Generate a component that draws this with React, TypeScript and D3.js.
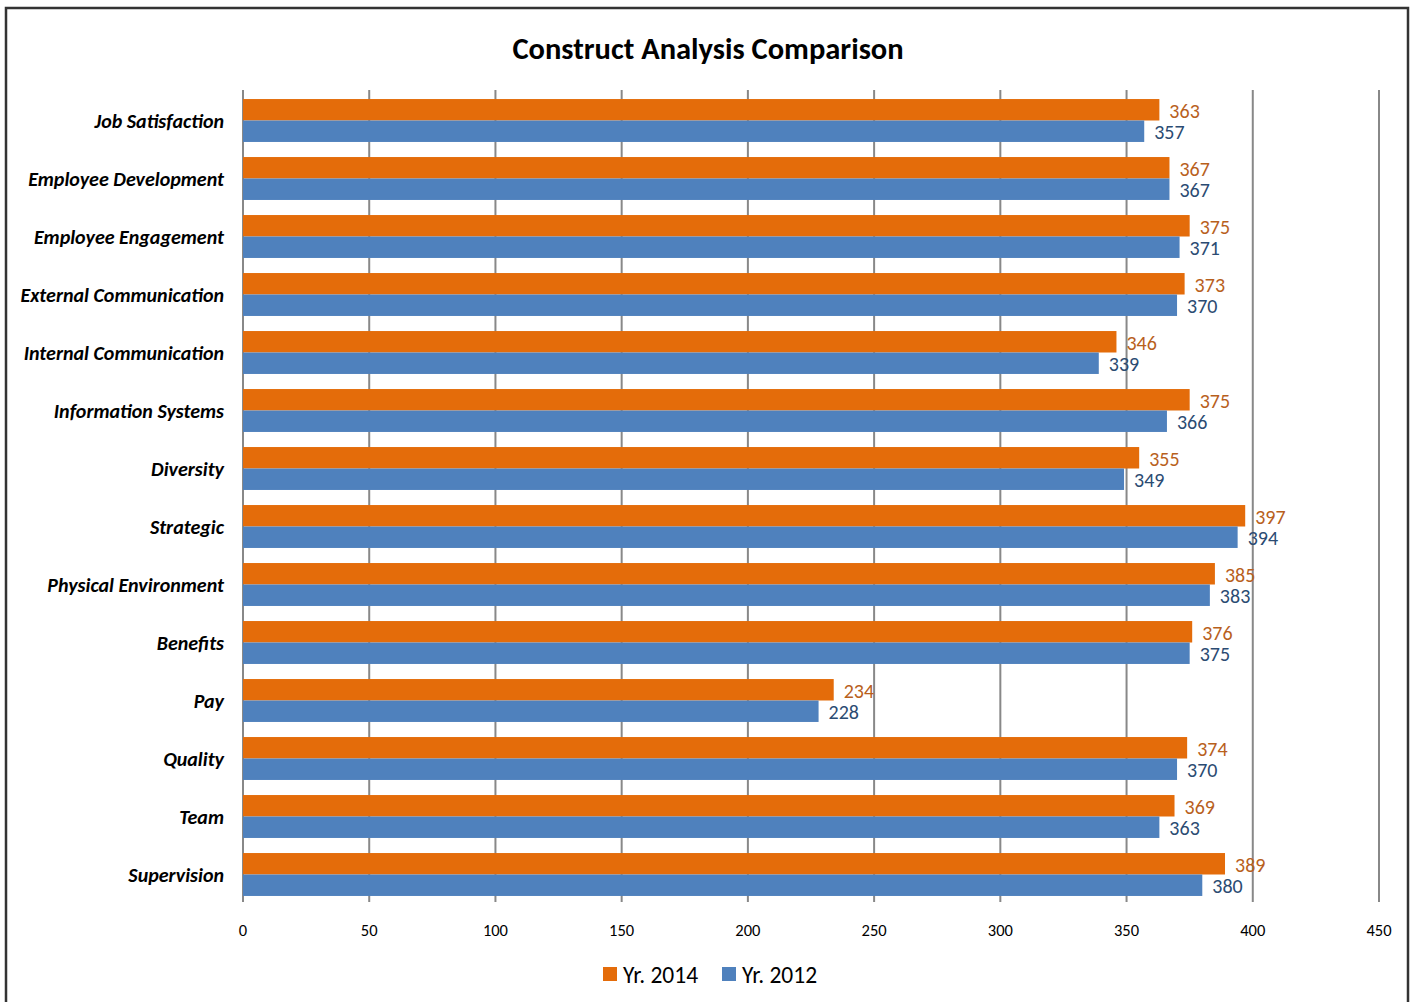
import * as d3 from "d3";

const categories = [
  "Job Satisfaction",
  "Employee Development",
  "Employee Engagement",
  "External Communication",
  "Internal Communication",
  "Information Systems",
  "Diversity",
  "Strategic",
  "Physical Environment",
  "Benefits",
  "Pay",
  "Quality",
  "Team",
  "Supervision",
];
const yr2014 = [363, 367, 375, 373, 346, 375, 355, 397, 385, 376, 234, 374, 369, 389];
const yr2012 = [357, 367, 371, 370, 339, 366, 349, 394, 383, 375, 228, 370, 363, 380];
const xTicks = [0, 50, 100, 150, 200, 250, 300, 350, 400, 450];
const seriesNames = ["Yr. 2014", "Yr. 2012"];

const W = 1413;
const H = 1002;
const font = "Carlito, Lato, 'Open Sans', sans-serif";
const orange = "#E46C0A";
const blue = "#4F81BD";
const orangeText = "#B8601C";
const blueText = "#2B4B72";
const gridColor = "#888888";

export default function App() {
  const x = d3.scaleLinear().domain([0, 450]).range([243, 1379]);
  const y = d3.scaleBand<string>().domain(categories).range([91.5, 903.5]).paddingInner(0.26).paddingOuter(0.13);
  const sub = d3.scaleBand<string>().domain(["a", "b"]).range([0, y.bandwidth()]);
  const series = [
    { name: seriesNames[0], values: yr2014, key: "a", fill: orange, text: orangeText },
    { name: seriesNames[1], values: yr2012, key: "b", fill: blue, text: blueText },
  ];

  return (
    <svg
      width={W}
      height={H}
      style={{ position: "absolute", left: 0, top: 0, background: "#fff" }}
      fontFamily={font}
    >
      <rect x={6} y={8} width={1402} height={1010} fill="#fff" stroke="#333" strokeWidth={2.5} />
      <text x={708} y={59} textAnchor="middle" fontSize={30.5} fontWeight="bold" fill="#000">
        Construct Analysis Comparison
      </text>

      {xTicks.map((t) => (
        <line key={t} x1={x(t)} x2={x(t)} y1={90} y2={902} stroke={gridColor} strokeWidth={2} />
      ))}

      {categories.map((c, i) => (
        <g key={c} transform={`translate(0,${y(c)})`}>
          <text
            x={224}
            y={y.bandwidth() / 2 + 1}
            textAnchor="end"
            dominantBaseline="central"
            fontSize={20}
            fontWeight="bold"
            fontStyle="italic"
            fill="#000"
          >
            {c}
          </text>
          {series.map((s) => (
            <g key={s.key}>
              <rect
                x={x(0)}
                y={sub(s.key)}
                width={x(s.values[i]) - x(0)}
                height={sub.bandwidth()}
                fill={s.fill}
              />
              <text
                x={x(s.values[i]) + 10}
                y={(sub(s.key) ?? 0) + sub.bandwidth() / 2 + 1}
                dominantBaseline="central"
                fontSize={20}
                fill={s.text}
              >
                {s.values[i]}
              </text>
            </g>
          ))}
        </g>
      ))}

      {xTicks.map((t) => (
        <text key={t} x={x(t)} y={930} textAnchor="middle" dominantBaseline="central" fontSize={16.5} fill="#000">
          {t}
        </text>
      ))}

      {series.map((s, i) => (
        <g key={s.name} transform={`translate(${603 + i * 119},967)`}>
          <rect x={0} y={0} width={14} height={14} fill={s.fill} />
          <text x={20} y={8} dominantBaseline="central" fontSize={23.5} fill="#000">
            {s.name}
          </text>
        </g>
      ))}
    </svg>
  );
}
